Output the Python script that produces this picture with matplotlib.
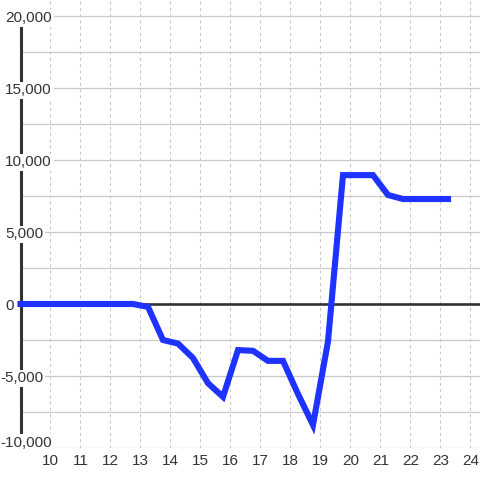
import matplotlib
matplotlib.use("Agg")
import matplotlib.pyplot as plt
import matplotlib.transforms as mtransforms
import numpy as np

plt.rcParams['font.family'] = ['Liberation Sans', 'DejaVu Sans']

# half-hourly series
hours = [9.0, 9.25, 9.75, 10.25, 10.75, 11.25, 11.75, 12.25, 12.75,
         13.25, 13.75, 14.25, 14.75, 15.25, 15.75, 16.25, 16.75,
         17.25, 17.75, 18.25, 18.75, 19.25, 19.75, 20.25, 20.75,
         21.25, 21.75, 22.25, 22.75, 23.25]
values = [0, 0, 0, 0, 0, 0, 0, 0, 0,
          -200, -2500, -2750, -3750, -5500, -6450, -3200, -3250,
          -3950, -3950, -6250, -8400, -2600, 8950, 8950, 8950,
          7570, 7290, 7290, 7290, 7290]

x_ticks = list(range(10, 25))
y_grid = np.arange(-10000, 20001, 2500)
y_labels = [-10000, -5000, 0, 5000, 10000, 15000, 20000]

text_col = '#333333'
line_col = '#1e33ff'

fig = plt.figure(figsize=(4.8, 4.8), dpi=100)
ax = fig.add_axes([20.5 / 480, 32 / 480, 459.5 / 480, 448 / 480])
ax.set_xlim(9, 24.317)
ax.set_ylim(-10000, 21111)

for side in ['top', 'right', 'bottom']:
    ax.spines[side].set_visible(False)
ax.spines['left'].set_bounds(-10000, 20000)
ax.spines['left'].set_linewidth(2.2)
ax.spines['left'].set_color(text_col)

ax.set_xticks(x_ticks)
ax.set_xticklabels([str(t) for t in x_ticks])
ax.set_yticks(y_grid)
ax.tick_params(axis='x', length=0, pad=4.5, labelsize=11, labelcolor=text_col)
ax.tick_params(axis='y', length=0, labelleft=False)
ax.xaxis.grid(True, color='#c8c8c8', linewidth=0.75, linestyle=(0, (3, 3)))
ax.yaxis.grid(True, color='#c8c8c8', linewidth=0.9)
ax.set_axisbelow(True)

ax.axhline(0, color=text_col, linewidth=1.9, zorder=2.2)

ax.plot(hours, values, color=line_col, linewidth=4.4,
        solid_capstyle='projecting', solid_joinstyle='miter', zorder=5, clip_on=False)

# y labels drawn over the spine with white boxes
base = ax.get_yaxis_transform()
for v in y_labels:
    s = f"{abs(v):,}"
    dx = 0.0
    if v < 0:
        s = "-" + s
        dx = -3.4
    dy = -4.6 if v != -10000 else 0.9
    tr = mtransforms.offset_copy(base, fig=fig, x=dx, y=dy, units='points')
    ax.text(-0.033, v, s, transform=tr, ha='left', va='baseline',
            fontsize=11, color=text_col, zorder=4, clip_on=False,
            bbox=dict(facecolor='white', edgecolor='none', pad=1.2))

fig.savefig("out.png", dpi=100)
